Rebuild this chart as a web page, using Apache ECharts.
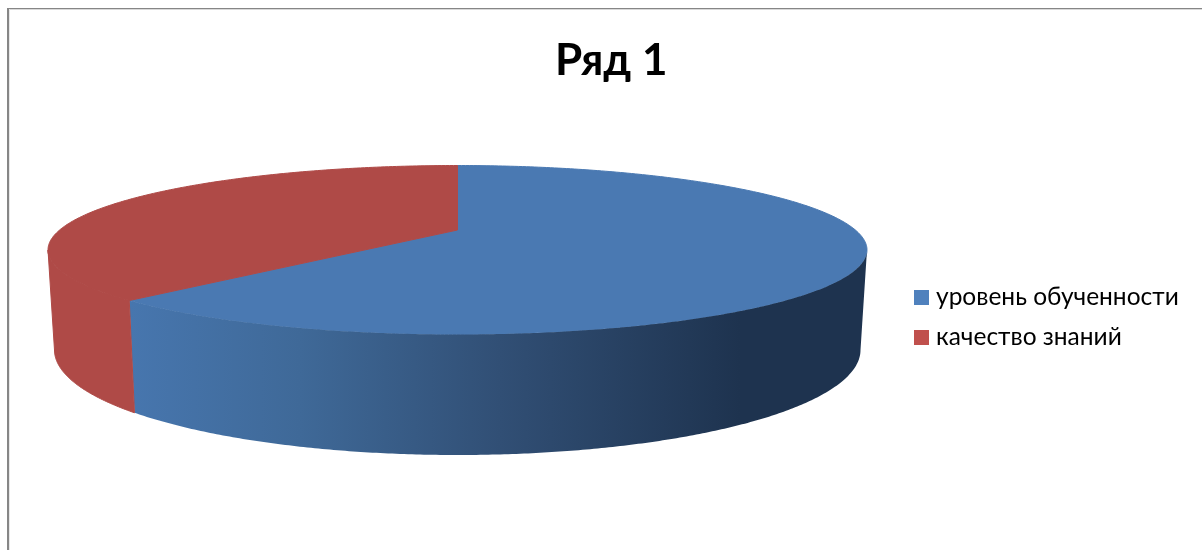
<!DOCTYPE html>
<html>
<head>
<meta charset="utf-8">
<style>html,body{margin:0;padding:0;background:#fff}#c{width:1202px;height:550px}</style>
<script src="https://cdn.jsdelivr.net/npm/echarts@6/dist/echarts.min.js"></script>
</head>
<body>
<div id="c"></div>
<script>
var categories = ['уровень обученности', 'качество знаний'];
var values = [64.8, 35.2];
var legendColors = ['#4f81bd', '#c0504d'];
var topColors = ['#4a79b2', '#af4a47'];
var total = values.reduce(function (a, b) { return a + b; }, 0);

var TOP = { cx: 457.5, cy: 250, rx: 409.5, ry: 84.5 };
var BOTTOM = { cx: 457.5, cy: 350, rx: 403, ry: 105 };
var APEX = [457.5, 230];

function pt(e, t) { return [e.cx + e.rx * Math.sin(t), e.cy - e.ry * Math.cos(t)]; }
function arc(e, a, b) {
  var out = [], n = Math.max(2, Math.ceil(Math.abs(b - a) / 0.01));
  for (var i = 0; i <= n; i++) out.push(pt(e, a + (b - a) * i / n));
  return out;
}
function blueSide() {
  var x0 = 130, x1 = 860;
  function s(x) { return (x - x0) / (x1 - x0); }
  return new echarts.graphic.LinearGradient(x0, 0, x1, 0, [
    { offset: 0, color: '#4776ae' },
    { offset: s(300), color: '#3f6998' },
    { offset: s(500), color: '#314f75' },
    { offset: s(740), color: '#1e334f' },
    { offset: 1, color: '#1e334f' }
  ], true);
}
function renderSlice(index) {
  return function (params, api) {
    var before = 0;
    for (var i = 0; i < index; i++) before += values[i];
    var v = api.value(0);
    var a = before / total * Math.PI * 2;
    var b = (before + v) / total * Math.PI * 2;
    var children = [];
    var sa = Math.max(a, Math.PI / 2), sb = Math.min(b, Math.PI * 1.5);
    var hasSide = sb > sa;
    var side = hasSide ? arc(TOP, sa, sb).concat(arc(BOTTOM, sb, sa)) : null;
    if (hasSide && index !== 0) {
      children.push({
        type: 'polygon', shape: { points: side },
        style: { fill: topColors[index], stroke: topColors[index], lineWidth: 1 }
      });
    }
    children.push({
      type: 'polygon', shape: { points: [APEX].concat(arc(TOP, a, b)) },
      style: { fill: topColors[index], stroke: topColors[index], lineWidth: 1 }
    });
    if (hasSide && index === 0) {
      children.push({
        type: 'polygon', shape: { points: side },
        style: { fill: blueSide() }
      });
    }
    return { type: 'group', children: children };
  };
}

var chart = echarts.init(document.getElementById('c'), null, { renderer: 'canvas' });
chart.setOption({
  animation: false,
  backgroundColor: '#ffffff',
  title: {
    text: 'Ряд 1', left: 555, top: 39,
    textStyle: { fontFamily: 'Lato', fontWeight: 'bold', fontSize: 44, color: '#000' },
    padding: 0
  },
  legend: {
    left: 914, top: 285, orient: 'vertical', selectedMode: false,
    itemWidth: 15, itemHeight: 15, itemGap: 15, icon: 'rect',
    data: categories.map(function (c, i) { return { name: c, itemStyle: { color: legendColors[i] } }; }),
    textStyle: { fontFamily: 'Lato', fontSize: 24.5, color: '#000', lineHeight: 15, padding: [0, 0, 0, 2] },
    padding: 0
  },
  graphic: [
    { type: 'rect', shape: { x: 7, y: 8, width: 2, height: 542 }, style: { fill: '#868686' }, silent: true },
    { type: 'rect', shape: { x: 7, y: 8, width: 1195, height: 1 }, style: { fill: '#868686' }, silent: true },
    { type: 'rect', shape: { x: 9, y: 9, width: 1193, height: 1 }, style: { fill: '#d9d9d9' }, silent: true },
    { type: 'rect', shape: { x: 9, y: 9, width: 1, height: 541 }, style: { fill: '#e8e8e8' }, silent: true }
  ],
  series: categories.map(function (c, i) {
    return {
      name: c, type: 'custom', coordinateSystem: 'none',
      itemStyle: { color: legendColors[i] },
      data: [[values[i]]],
      renderItem: renderSlice(i)
    };
  })
});
</script>
</body>
</html>
